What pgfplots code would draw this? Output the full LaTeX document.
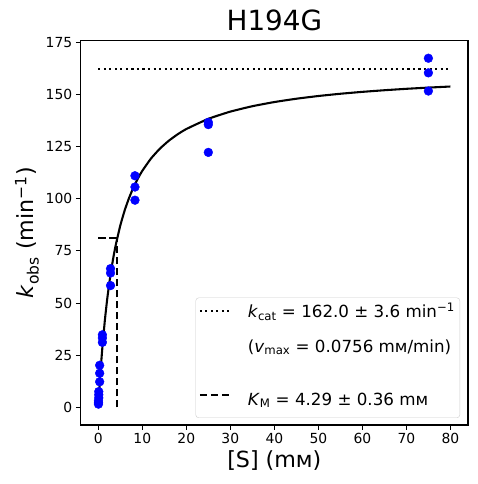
\documentclass[border=0pt]{standalone}
\usepackage{fontspec}
\setmainfont{DejaVu Sans}
\usepackage{pgfplots}
\pgfplotsset{compat=1.18}

\pgfplotstableread{
x y
75 167.3
75 160.3
75 151.6
25 136.6
25 135.5
25 122.2
8.33 111.0
8.33 105.6
8.33 99.3
2.78 66.5
2.78 64.4
2.78 58.4
0.926 34.8
0.926 33.3
0.926 31.2
0.309 20.2
0.309 16.4
0.309 12.3
0.103 7.6
0.103 6.1
0.103 4.6
0.034 3.2
0.034 2.3
0.034 1.6
}\datatable

\pgfplotstableread{
x y
0 0
0.25 8.92
0.5 16.91
0.75 24.11
1 30.62
1.5 41.97
2 51.51
2.5 59.65
3 66.67
3.5 72.79
4 78.17
5 87.19
6 94.46
7 100.44
8 105.45
9 109.71
10 113.37
12 119.34
14 124.00
16 127.75
18 130.82
20 133.39
25 138.27
30 141.73
35 144.31
40 146.31
45 147.90
50 149.20
55 150.28
60 151.19
65 151.97
70 152.65
75 153.23
80 153.75
}\fittable

\begin{document}
\begin{tikzpicture}
\useasboundingbox (-80.7pt,-59pt) rectangle (396.3pt,425pt);
\begin{axis}[
  at={(0pt,0pt)}, anchor=south west,
  scale only axis, width=387.3pt, height=384.3pt,
  xmin=-4, xmax=84, ymin=-8.4, ymax=175.7,
  xtick={0,10,...,80}, ytick={0,25,...,175},
  xtick pos=left, ytick pos=left,
  tick align=outside, major tick length=4.9pt,
  every tick/.style={black, line width=1.1pt},
  axis line style={line width=1.1pt},
  ticklabel style={font=\fontsize{13.9}{16}\selectfont},
  /pgf/number format/assume math mode=true,
  title={H194G},
  title style={font=\fontsize{27.8}{32}\selectfont, yshift=0pt},
  xlabel={[S] (mм)},
  ylabel={\textit{k}\textsubscript{obs} (min\textsuperscript{−1})},
  label style={font=\fontsize{22.2}{26}\selectfont},
  legend cell align=left,
  legend style={at={(axis description cs:1,0)}, anchor=south east,
    xshift=-8pt, yshift=7pt, draw=black!20, rounded corners=3pt,
    fill=white, font=\fontsize{16.7}{20}\selectfont,
    inner xsep=3pt, inner ysep=3pt, row sep=0pt,
    nodes={inner ysep=0pt}},
  legend image code/.code={\draw[#1] (0pt,6pt) -- (30pt,6pt); \path[draw=none,fill=none] (0pt,6pt) -- (46pt,6pt);},
]
\addplot[black, line width=2.08pt, dash pattern=on 2.08pt off 3.44pt] coordinates {(0,162.0) (80,162.0)};
\addlegendentry[text height=16.7pt, text depth=16pt]{\textit{k}\textsubscript{cat} = 162.0 ± 3.6 min\textsuperscript{−1}}
\addlegendimage{empty legend}
\addlegendentry[text height=18.6pt, text depth=9pt]{(\textit{v}\textsubscript{max} = 0.0756 mм/min)}
\addlegendimage{empty legend}
\addlegendentry[text height=18pt, text depth=8pt]{}
\addlegendimage{black, line width=2.08pt, dash pattern=on 7.7pt off 3.3pt}
\addlegendentry[text height=18pt, text depth=9.7pt]{\textit{K}\textsubscript{M} = 4.29 ± 0.36 mм}

\addplot[black, line width=2.08pt, dash pattern=on 7.7pt off 3.3pt, forget plot] coordinates {(0,81.0) (4.29,81.0)};
\addplot[black, line width=2.08pt, dash pattern=on 7.7pt off 3.3pt, forget plot] coordinates {(4.29,0) (4.29,81.0)};
\addplot[only marks, mark=*, mark size=4.4pt, blue, forget plot] table[x=x,y=y] {\datatable};
\addplot[black, line width=2.08pt, smooth, tension=0.3, forget plot] table[x=x,y=y] {\fittable};
\end{axis}
\end{tikzpicture}
\end{document}
